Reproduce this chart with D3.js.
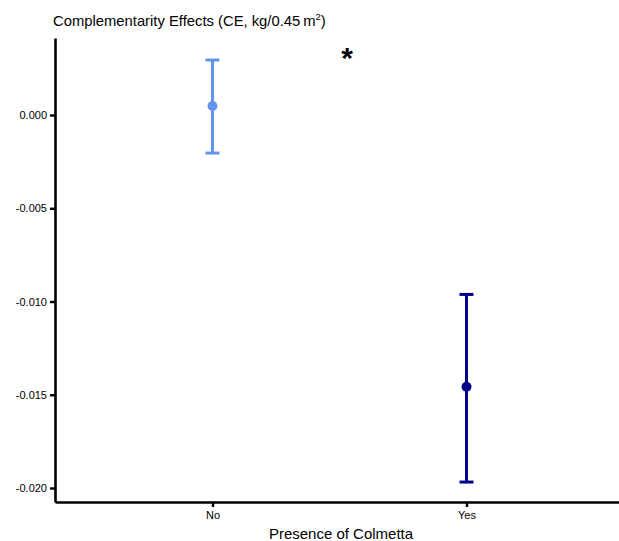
<!DOCTYPE html>
<html>
<head>
<meta charset="utf-8">
<script src="https://cdn.jsdelivr.net/npm/d3@7"></script>
<style>
  body { margin: 0; background: #fff; }
  text { font-family: "Liberation Sans", Arial, sans-serif; }
</style>
</head>
<body>
<div id="chart"></div>
<script>
// data
var groups = ['No', 'Yes'];
var means = [0.00048, -0.01457];
var upper = [0.00295, -0.00962];
var lower = [-0.00204, -0.01968];
var colors = ['#6495ED', '#00008B'];
var yTicks = [0, -0.005, -0.010, -0.015, -0.020];

var width = 619, height = 541;
var margin = {top: 38, left: 55, bottom: 39};

var svg = d3.select('#chart').append('svg')
  .attr('width', width)
  .attr('height', height);

var x = d3.scalePoint()
  .domain(groups)
  .range([margin.left, 624])
  .padding(0.62);

var y = d3.scaleLinear()
  .domain([-0.02075, 0.00413])
  .range([height - margin.bottom, margin.top]);

var fmt = function(d) { return d3.format('.3f')(d).replace('\u2212', '-'); };

// y axis
var yAxis = svg.append('g')
  .attr('transform', 'translate(' + margin.left + ',0)')
  .call(d3.axisLeft(y).tickValues(yTicks).tickFormat(fmt).tickSize(5).tickSizeOuter(0));

// x axis
var xAxis = svg.append('g')
  .attr('transform', 'translate(0,' + (height - margin.bottom) + ')')
  .call(d3.axisBottom(x).tickSize(5).tickSizeOuter(0));

[yAxis, xAxis].forEach(function(ax) {
  ax.select('.domain').attr('stroke', '#000').attr('stroke-width', 2.6);
  ax.selectAll('.tick line').attr('stroke', '#000').attr('stroke-width', 2.4);
  ax.selectAll('.tick text').attr('font-size', 11).attr('fill', '#000')
    .style('font-family', '"Liberation Sans", Arial, sans-serif');
});
yAxis.selectAll('.tick text').attr('x', -8);
xAxis.selectAll('.tick text').attr('y', 9);

// error bars
var bars = svg.selectAll('.err')
  .data(groups)
  .enter().append('g')
  .attr('class', 'err');

bars.append('line')
  .attr('x1', function(d) { return x(d); })
  .attr('x2', function(d) { return x(d); })
  .attr('y1', function(d, i) { return y(upper[i]); })
  .attr('y2', function(d, i) { return y(lower[i]); })
  .attr('stroke', function(d, i) { return colors[i]; })
  .attr('stroke-width', 3);

bars.selectAll('.cap')
  .data(function(d, i) { return [{g: d, v: upper[i], c: colors[i]}, {g: d, v: lower[i], c: colors[i]}]; })
  .enter().append('line')
  .attr('class', 'cap')
  .attr('x1', function(d) { return x(d.g) - 7; })
  .attr('x2', function(d) { return x(d.g) + 7; })
  .attr('y1', function(d) { return y(d.v); })
  .attr('y2', function(d) { return y(d.v); })
  .attr('stroke', function(d) { return d.c; })
  .attr('stroke-width', 3);

bars.append('circle')
  .attr('cx', function(d) { return x(d); })
  .attr('cy', function(d, i) { return y(means[i]); })
  .attr('r', 5)
  .attr('fill', function(d, i) { return colors[i]; });

// title
var title = svg.append('text')
  .attr('x', 53)
  .attr('y', 26)
  .attr('font-size', 14.8)
  .attr('fill', '#000');
title.append('tspan').text('Complementarity Effects (CE, kg/0.45\u2009m');
title.append('tspan').attr('font-size', 9.5).attr('dy', -6).text('2');
title.append('tspan').attr('dy', 6).text(')');

// significance star
svg.append('text')
  .attr('x', 347)
  .attr('y', 68)
  .attr('text-anchor', 'middle')
  .attr('font-size', 30)
  .attr('font-weight', 'bold')
  .attr('fill', '#000')
  .text('*');

// x axis title
svg.append('text')
  .attr('x', 341)
  .attr('y', 539)
  .attr('text-anchor', 'middle')
  .attr('font-size', 15)
  .attr('fill', '#000')
  .text('Presence of Colmetta');
</script>
</body>
</html>
